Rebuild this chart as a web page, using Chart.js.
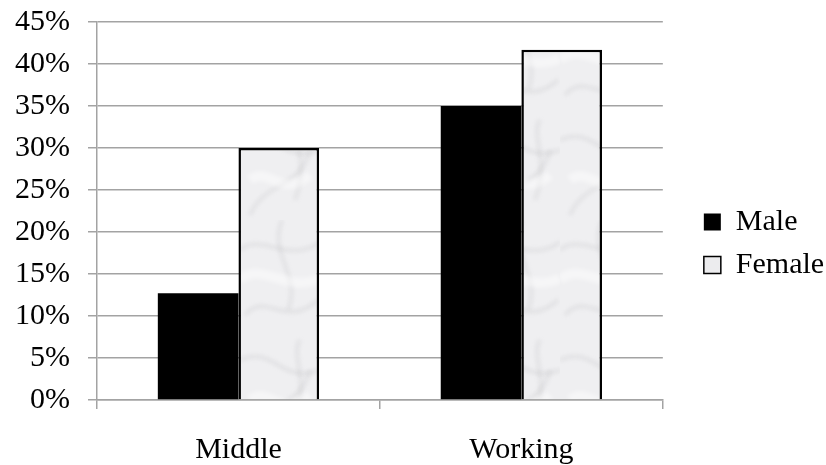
<!DOCTYPE html>
<html><head><meta charset="utf-8">
<script src="https://cdn.jsdelivr.net/npm/chart.js@4"></script>
<style>html,body{margin:0;padding:0;background:#fff}#wrap{width:826px;height:465px}</style>
</head><body><div id="wrap"><canvas id="c" width="826" height="465"></canvas></div>
<script>
const categories = ["Middle", "Working"];
const maleValues = [12.7, 35.0];
const femaleValues = [30.0, 41.7];
const seriesNames = ["Male", "Female"];
const yTicks = [0, 5, 10, 15, 20, 25, 30, 35, 40, 45];

function marble() {
  const p = document.createElement('canvas');
  p.width = 80; p.height = 220;
  const g = p.getContext('2d');
  g.fillStyle = '#efeff1'; g.fillRect(0, 0, 80, 220);
  g.filter = 'blur(2px)';
  g.strokeStyle = 'rgba(150,150,155,0.22)';
  g.lineWidth = 2.5;
  const veins = [[0,30,20,12,50,45,80,22],[5,95,25,70,45,110,78,80],[10,215,25,180,60,190,70,150],[42,0,28,35,62,55,48,90],[0,140,35,125,40,165,80,150],[60,120,50,135,70,160,55,200]];
  for (const [a,b,c,d,e,f,h,k] of veins) { g.beginPath(); g.moveTo(a,b); g.bezierCurveTo(c,d,e,f,h,k); g.stroke(); }
  g.lineWidth = 10; g.strokeStyle = 'rgba(255,255,255,0.45)';
  g.beginPath(); g.moveTo(0,60); g.bezierCurveTo(20,40,50,75,80,58); g.stroke();
  g.beginPath(); g.moveTo(10,180); g.bezierCurveTo(30,165,40,200,70,175); g.stroke();
  return document.getElementById('c').getContext('2d').createPattern(p,'repeat');
}
const femaleFill = marble();
const font = { family: '"Liberation Serif", "Times New Roman", serif', size: 30 };
new Chart(document.getElementById('c'), {
  type: 'bar',
  data: {
    labels: categories,
    datasets: [
      { label: seriesNames[0], data: maleValues, backgroundColor: '#000', borderColor: '#000', borderWidth: 0 },
      { label: seriesNames[1], data: femaleValues, backgroundColor: femaleFill, borderColor: '#000', borderWidth: 2.5 }
    ]
  },
  options: {
    responsive: false, animation: false,
    layout: { padding: { top: 22, left: 0, right: -3, bottom: 0 } },
    datasets: { bar: { categoryPercentage: 0.57, barPercentage: 1.0 } },
    plugins: {
      tooltip: { enabled: false },
      legend: {
        position: 'right',
        labels: { font: font, color: '#000', boxWidth: 17, boxHeight: 17, padding: 13,
          generateLabels: (chart) => chart.data.datasets.map((d, i) => ({
            text: d.label, fillStyle: i === 0 ? '#000' : '#ececee', strokeStyle: '#000', lineWidth: i === 0 ? 0 : 1.5, datasetIndex: i, fontColor: '#000'
          }))
        }
      }
    },
    scales: {
      x: {
        grid: { display: true, drawOnChartArea: false, color: '#a3a3a3', lineWidth: 1.5, tickLength: 9, offset: true },
        border: { color: '#a3a3a3', width: 1.5 },
        ticks: { font: font, color: '#000', padding: 23 },
        afterFit: (s) => { s.height = 65; }
      },
      y: {
        min: 0, max: 45,
        afterBuildTicks: (s) => { s.ticks = yTicks.map(v => ({ value: v })); },
        afterFit: (s) => { s.width = 97; s.paddingTop = 0; s.paddingBottom = 0; },
        grid: { color: '#a3a3a3', lineWidth: 1.5, tickLength: 9 },
        border: { color: '#a3a3a3', width: 1.5 },
        ticks: { font: font, color: '#000', padding: 18, callback: (v) => v + '%' }
      },
      gap: {
        position: 'right', display: true,
        grid: { display: false }, border: { display: false }, ticks: { display: false },
        afterFit: (s) => { s.width = 28; s.paddingTop = 0; s.paddingBottom = 0; }
      }
    }
  }
});
</script></body></html>
